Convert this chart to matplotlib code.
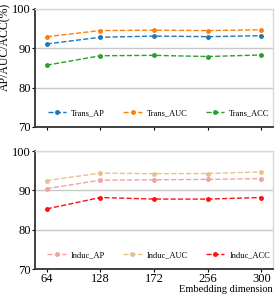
import numpy as np
import matplotlib.pyplot as plt

plt.rcParams['font.family'] = ['Liberation Serif', 'DejaVu Serif']

# embedding dimensions on the x axis
dims = ['64', '128', '172', '256', '300']

# transductive results
trans_ap = [91.1, 92.8, 93.1, 92.95, 93.2]
trans_auc = [92.95, 94.5, 94.6, 94.5, 94.7]
trans_acc = [85.7, 88.1, 88.2, 87.9, 88.3]

# inductive results
induc_ap = [90.45, 92.6, 92.7, 92.8, 93.0]
induc_auc = [92.5, 94.4, 94.25, 94.3, 94.7]
induc_acc = [85.3, 88.2, 87.8, 87.8, 88.2]

x = np.arange(len(dims))

fig = plt.figure(figsize=(2.77, 2.98), dpi=100)
ax1 = fig.add_axes([0.126, 0.574, 0.86, 0.396])
ax2 = fig.add_axes([0.126, 0.097, 0.86, 0.396])

def style(ax):
    ax.set_ylim(70, 100)
    ax.set_xlim(-0.22, 4.22)
    ax.set_yticks([70, 80, 90, 100])
    ax.set_xticks(x)
    ax.grid(axis='y', color='#c8c8c8', linewidth=1.0)
    ax.set_axisbelow(True)
    for s in ['top', 'right']:
        ax.spines[s].set_color('#d8d8d8')
        ax.spines[s].set_linewidth(1.0)
    for s in ['left', 'bottom']:
        ax.spines[s].set_color('#333333')
        ax.spines[s].set_linewidth(1.3)
    ax.tick_params(axis='y', labelsize=9, length=2, width=0.8, pad=1)
    ax.tick_params(axis='x', labelsize=9, length=2, width=0.8, pad=0.5)

kw = dict(linestyle='--', marker='o', markersize=2.5, linewidth=1.0)

ax1.plot(x, trans_ap, color='#1f77b4', label='Trans_AP', **kw)
ax1.plot(x, trans_auc, color='#ff7f0e', label='Trans_AUC', **kw)
ax1.plot(x, trans_acc, color='#2ca02c', label='Trans_ACC', **kw)
style(ax1)
ax1.set_xticklabels([])
ax1.set_ylabel('AP/AUC/ACC(%)', fontsize=8.5)
ax1.yaxis.set_label_coords(-0.098, 0.68)
ax1.legend(loc='lower center', ncol=3, frameon=False, fontsize=6,
           handlelength=2.2, columnspacing=2.2, handletextpad=0.6,
           bbox_to_anchor=(0.52, 0.02))

ax2.plot(x, induc_ap, color='#f4a0a0', label='Induc_AP', **kw)
ax2.plot(x, induc_auc, color='#e6c08e', label='Induc_AUC', **kw)
ax2.plot(x, induc_acc, color='#ff1010', label='Induc_ACC', **kw)
style(ax2)
ax2.set_xticklabels(dims)
ax2.set_xlabel('Embedding dimension', fontsize=7.5)
ax2.xaxis.set_label_coords(1.0, -0.135)
ax2.xaxis.label.set_horizontalalignment('right')
ax2.legend(loc='lower center', ncol=3, frameon=False, fontsize=6,
           handlelength=2.2, columnspacing=2.2, handletextpad=0.6,
           bbox_to_anchor=(0.52, 0.02))

fig.savefig('out.png', dpi=100)
